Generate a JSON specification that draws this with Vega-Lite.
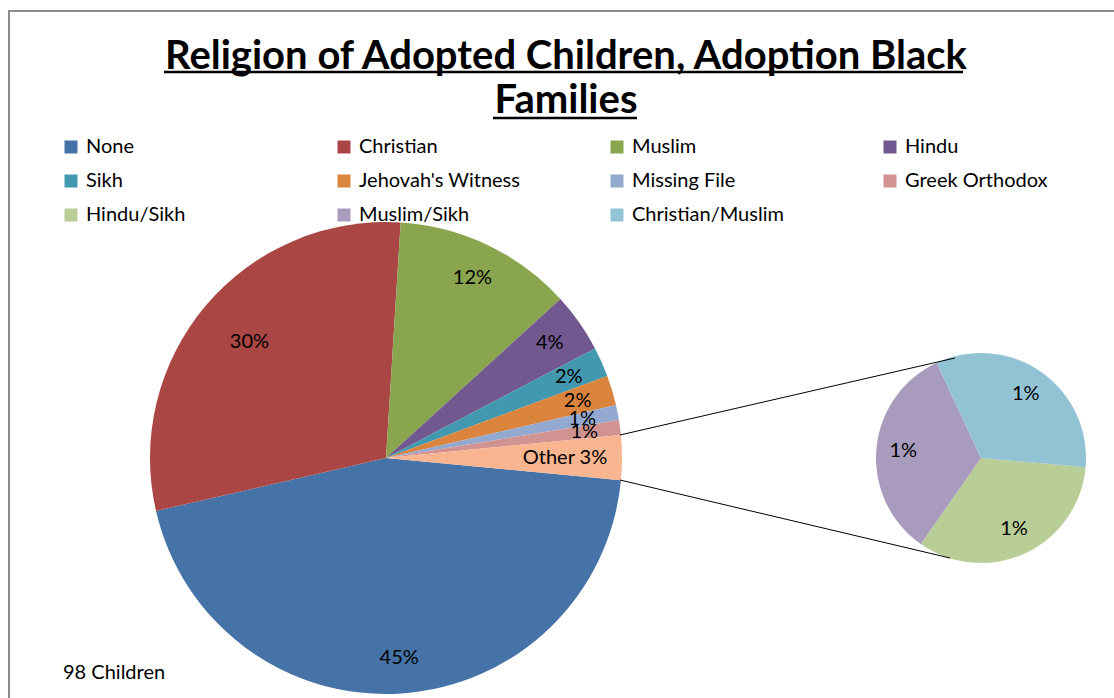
{
  "$schema": "https://vega.github.io/schema/vega-lite/v6.json",
  "width": 1114,
  "height": 894,
  "autosize": {"type": "none"},
  "padding": {"left": 9, "top": 11, "right": 0, "bottom": 0},
  "background": "white",
  "config": {
    "view": {"stroke": "#8c8c8c", "strokeWidth": 2},
    "font": "Lato",
    "text": {"font": "Lato"},
    "legend": {
      "orient": "none",
      "legendX": 52,
      "legendY": 126,
      "title": null,
      "columns": 4,
      "direction": "horizontal",
      "symbolType": "square",
      "symbolSize": 169,
      "symbolStrokeWidth": 0,
      "labelFontSize": 20,
      "labelFont": "Lato",
      "labelColor": "#000000",
      "labelLimit": 300,
      "columnPadding": 86,
      "rowPadding": 14,
      "gridAlign": "all",
      "labelOffset": 5
    }
  },
  "title": {
    "text": ["Religion of Adopted Children, Adoption Black", "Families"],
    "font": "Lato",
    "fontSize": 40,
    "fontWeight": "bold",
    "color": "#000000",
    "anchor": "middle",
    "frame": "group",
    "lineHeight": 44,
    "offset": -110
  },
  "data": {
    "values": [
      {"religion": "None", "count": 44, "pie": "primary", "order": 1},
      {"religion": "Christian", "count": 29, "pie": "primary", "order": 2},
      {"religion": "Muslim", "count": 12, "pie": "primary", "order": 3},
      {"religion": "Hindu", "count": 4, "pie": "primary", "order": 4},
      {"religion": "Sikh", "count": 2, "pie": "primary", "order": 5},
      {"religion": "Jehovah's Witness", "count": 2, "pie": "primary", "order": 6},
      {"religion": "Missing File", "count": 1, "pie": "primary", "order": 7},
      {"religion": "Greek Orthodox", "count": 1, "pie": "primary", "order": 8},
      {"religion": "Other", "count": 3, "pie": "primary", "order": 9},
      {"religion": "Hindu/Sikh", "count": 1, "pie": "secondary", "order": 1},
      {"religion": "Muslim/Sikh", "count": 1, "pie": "secondary", "order": 2},
      {"religion": "Christian/Muslim", "count": 1, "pie": "secondary", "order": 3}
    ]
  },
  "transform": [
    {"calculate": "datum.pie === 'primary' ? datum.count : 0", "as": "primaryCount"},
    {"joinaggregate": [{"op": "sum", "field": "primaryCount", "as": "total"}]},
    {"calculate": "(datum.religion === 'Other' ? 'Other ' : '') + round(datum.count / datum.total * 100) + '%'", "as": "label"}
  ],
  "layer": [
    {
      "transform": [{"filter": "datum.pie === 'primary'"}],
      "encoding": {
        "x": {"field": "pie", "type": "nominal", "axis": null,
              "scale": {"type": "point", "domain": ["primary", "secondary"], "range": [377, 972], "padding": 0}},
        "theta": {"field": "count", "type": "quantitative", "stack": true,
                  "scale": {"range": [1.665, 7.9482]}},
        "order": {"field": "order", "type": "quantitative"}
      },
      "layer": [
        {
          "mark": {"type": "arc", "outerRadius": 236},
          "encoding": {
            "color": {
              "field": "religion", "type": "nominal",
              "scale": {
                "domain": ["None", "Christian", "Muslim", "Hindu", "Sikh", "Jehovah's Witness", "Missing File", "Greek Orthodox", "Hindu/Sikh", "Muslim/Sikh", "Christian/Muslim", "Other"],
                "range": ["#4572A7", "#AA4643", "#89A54E", "#71588F", "#4198AF", "#DB843D", "#93A9CF", "#D19392", "#B9CD96", "#A99BBD", "#92C3D4", "#F9B590"]
              },
              "legend": {
                "values": ["None", "Christian", "Muslim", "Hindu", "Sikh", "Jehovah's Witness", "Missing File", "Greek Orthodox", "Hindu/Sikh", "Muslim/Sikh", "Christian/Muslim"]
              }
            }
          }
        },
        {
          "mark": {"type": "text", "fontSize": 20, "color": "#000000"},
          "encoding": {
            "detail": {"field": "religion", "type": "nominal"},
            "radius": {"value": 200},
            "text": {"field": "label", "type": "nominal",
                     "condition": {"test": "datum.religion === 'Other' || datum.religion === 'Christian'", "value": ""}}
          }
        },
        {
          "mark": {"type": "text", "fontSize": 20, "color": "#000000"},
          "encoding": {
            "detail": {"field": "religion", "type": "nominal"},
            "radius": {"value": 179},
            "text": {"field": "label", "type": "nominal",
                     "condition": {"test": "datum.religion !== 'Other' && datum.religion !== 'Christian'", "value": ""}}
          }
        }
      ]
    },
    {
      "transform": [{"filter": "datum.pie === 'secondary'"}],
      "encoding": {
        "x": {"field": "pie", "type": "nominal", "axis": null,
              "scale": {"type": "point", "domain": ["primary", "secondary"], "range": [377, 972], "padding": 0}},
        "theta": {"field": "count", "type": "quantitative", "stack": true,
                  "scale": {"range": [1.658, 7.9412]}},
        "order": {"field": "order", "type": "quantitative"}
      },
      "layer": [
        {
          "mark": {"type": "arc", "outerRadius": 105},
          "encoding": {
            "color": {"field": "religion", "type": "nominal"}
          }
        },
        {
          "mark": {"type": "text", "fontSize": 20, "color": "#000000"},
          "encoding": {
            "detail": {"field": "religion", "type": "nominal"},
            "radius": {"value": 78},
            "text": {"field": "label", "type": "nominal"}
          }
        }
      ]
    },
    {
      "data": {"values": [{"connector": "upper"}]},
      "mark": {"type": "rule", "color": "#000000", "strokeWidth": 1},
      "encoding": {"x": {"value": 611}, "y": {"value": 424}, "x2": {"value": 946}, "y2": {"value": 347}}
    },
    {
      "data": {"values": [{"connector": "lower"}]},
      "mark": {"type": "rule", "color": "#000000", "strokeWidth": 1},
      "encoding": {"x": {"value": 611}, "y": {"value": 469}, "x2": {"value": 941}, "y2": {"value": 547}}
    },
    {
      "data": {"values": [{"underline": "title line 1"}]},
      "mark": {"type": "rule", "color": "#000000", "strokeWidth": 2.5},
      "encoding": {"x": {"value": 155}, "x2": {"value": 954}, "y": {"value": 61}}
    },
    {
      "data": {"values": [{"underline": "title line 2"}]},
      "mark": {"type": "rule", "color": "#000000", "strokeWidth": 2.5},
      "encoding": {"x": {"value": 484}, "x2": {"value": 628}, "y": {"value": 107}}
    },
    {
      "transform": [
        {"filter": "datum.pie === 'primary'"},
        {"aggregate": [{"op": "sum", "field": "count", "as": "n"}]},
        {"calculate": "datum.n + ' Children'", "as": "note"}
      ],
      "mark": {"type": "text", "x": 54, "y": 668, "align": "left", "baseline": "alphabetic", "fontSize": 20, "color": "#000000"},
      "encoding": {"text": {"field": "note", "type": "nominal"}}
    }
  ],
  "resolve": {"scale": {"theta": "independent"}}
}
